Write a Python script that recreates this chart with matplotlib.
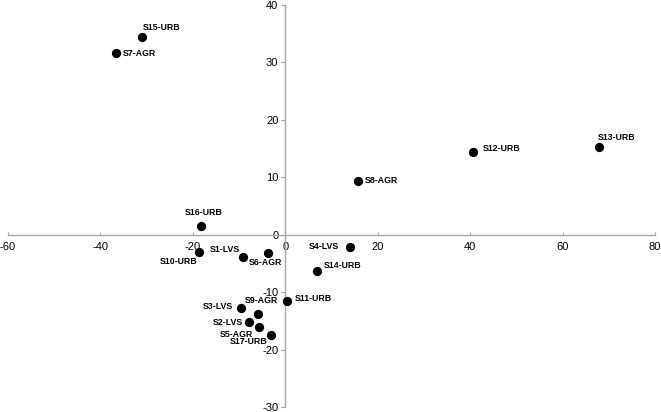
import matplotlib.pyplot as plt

plt.rcParams['font.family'] = ['Liberation Sans', 'DejaVu Sans']
plt.rcParams['axes.unicode_minus'] = False

# site scores (PCA-like ordination)
labels = ['S15-URB', 'S7-AGR', 'S12-URB', 'S13-URB', 'S8-AGR', 'S16-URB',
          'S10-URB', 'S1-LVS', 'S6-AGR', 'S4-LVS', 'S14-URB', 'S11-URB',
          'S3-LVS', 'S9-AGR', 'S2-LVS', 'S5-AGR', 'S17-URB']
x_vals = [-30.9, -36.6, 40.6, 67.8, 15.7, -18.2,
          -18.7, -9.2, -3.7, 13.9, 6.9, 0.3,
          -9.5, -5.8, -7.9, -5.7, -3.0]
y_vals = [34.4, 31.6, 14.5, 15.3, 9.3, 1.6,
          -2.9, -3.9, -3.1, -2.1, -6.2, -11.5,
          -12.7, -13.8, -15.2, -16.1, -17.4]

# label offsets in pixels (dx, dy, ha)
offsets = {
    'S15-URB': (0, 10, 'left'),
    'S7-AGR': (7, 0, 'left'),
    'S12-URB': (10, 3, 'left'),
    'S13-URB': (-1, 9, 'left'),
    'S8-AGR': (7, 1, 'left'),
    'S16-URB': (2, 13, 'center'),
    'S10-URB': (-1, -10, 'right'),
    'S1-LVS': (-3, 8, 'right'),
    'S6-AGR': (-3, -10, 'center'),
    'S4-LVS': (-10, 0, 'right'),
    'S14-URB': (7, 5, 'left'),
    'S11-URB': (8, 2, 'left'),
    'S3-LVS': (-8, 1, 'right'),
    'S9-AGR': (3, 14, 'center'),
    'S2-LVS': (-6, 0, 'right'),
    'S5-AGR': (-6, -7, 'right'),
    'S17-URB': (-4, -7, 'right'),
}

fig = plt.figure(figsize=(6.61, 4.12), dpi=100)
ax = fig.add_axes([8 / 661, 4.7 / 412, 647 / 661, 402.3 / 412])

ax.scatter(x_vals, y_vals, s=32, color='black', zorder=3)

for lab, x, y in zip(labels, x_vals, y_vals):
    dx, dy, ha = offsets[lab]
    ax.annotate(lab, (x, y), xytext=(dx * 0.72, dy * 0.72), textcoords='offset points',
                ha=ha, va='center', fontsize=6.3, fontweight='bold')

ax.set_xlim(-60, 80)
ax.set_ylim(-30, 40)
ax.set_xticks(range(-60, 81, 20))
ax.set_yticks(range(-30, 41, 10))

ax.spines['left'].set_position(('data', 0))
ax.spines['bottom'].set_position(('data', 0))
ax.spines['right'].set_visible(False)
ax.spines['top'].set_visible(False)
for s in ['left', 'bottom']:
    ax.spines[s].set_color('#a6a6a6')
    ax.spines[s].set_linewidth(1.0)

ax.tick_params(axis='x', direction='in', length=2.5, color='#a6a6a6', labelsize=8, pad=5)
ax.tick_params(axis='y', direction='out', length=3, color='#a6a6a6', labelsize=8, pad=2)

plt.savefig('out.png', dpi=100)
